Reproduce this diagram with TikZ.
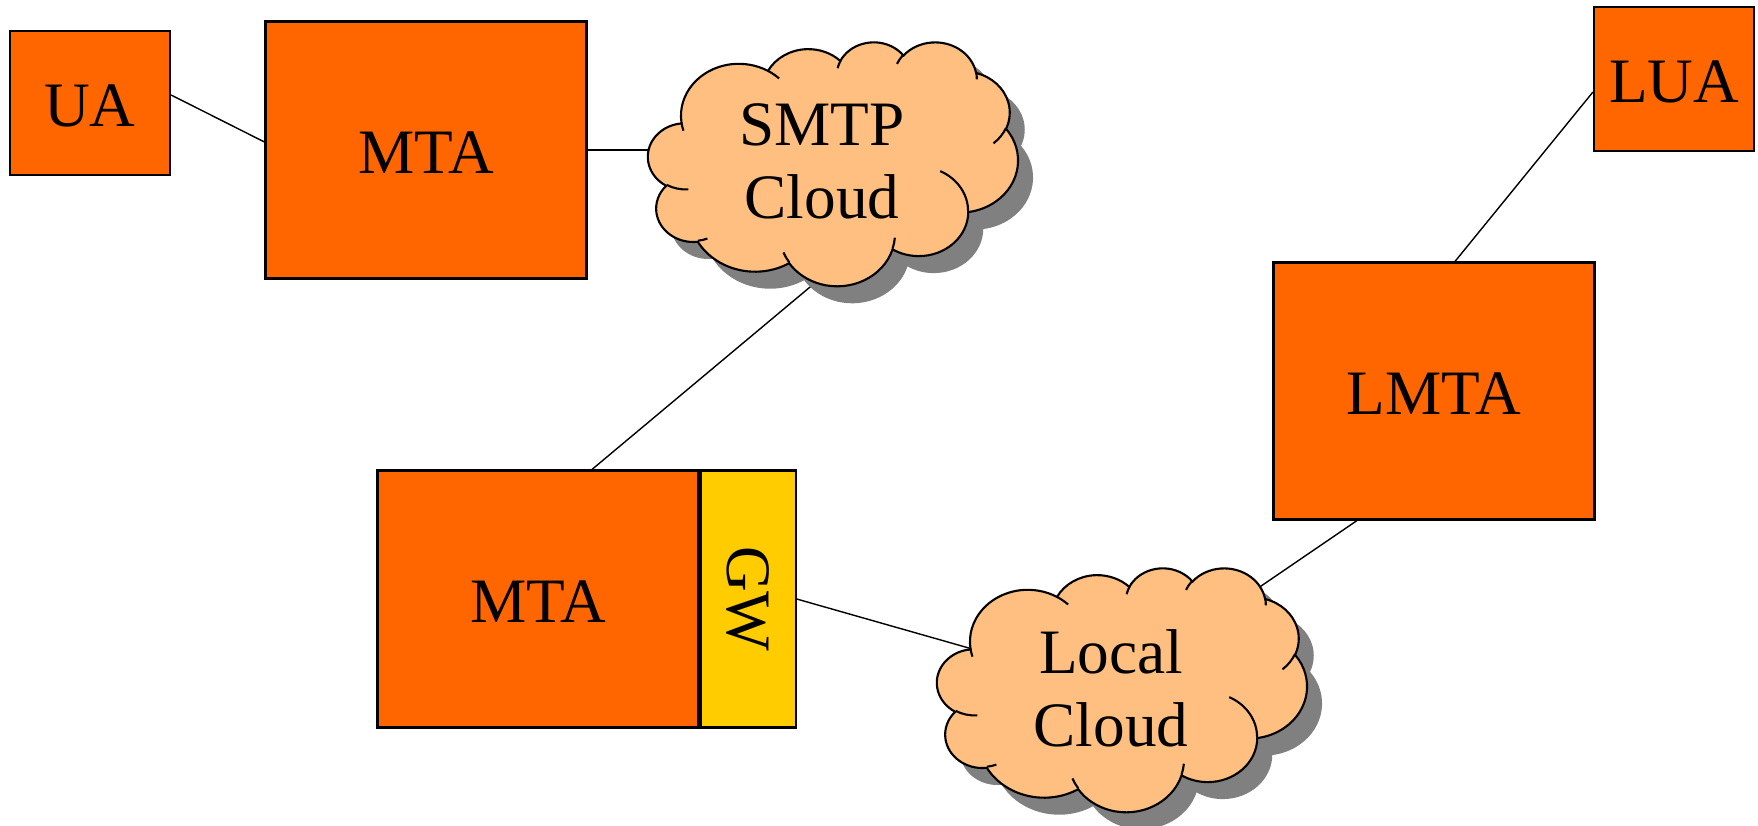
\documentclass[tikz,border=0pt]{standalone}
\usepackage{fontspec}
\setmainfont{Liberation Serif}
\usepackage{graphicx}
\usetikzlibrary{positioning,backgrounds}
\definecolor{mtaorange}{HTML}{FF6600}
\definecolor{gwyellow}{HTML}{FFCC00}
\definecolor{cloudfill}{HTML}{FFBF80}

% elliptic arc given by radii, start angle and sweep (angles as seen on the ellipse)
\newcommand\pptarc[4]{arc[start angle={atan2(#1*sin(#3),#2*cos(#3))},
  delta angle={mod(atan2(#1*sin(#3+#4),#2*cos(#3+#4))-atan2(#1*sin(#3),#2*cos(#3))+720,360)},
  x radius=#1, y radius=#2]}
% cloud outline on a 432 x 432 grid, y pointing down
\newcommand\cloudoutline{(39.00,143.70)
  \pptarc{67.53}{91.90}{-190.4875}{123.7805}
  \pptarc{53.33}{72.67}{-144.1024}{89.9452}
  \pptarc{43.65}{59.45}{-145.8079}{99.7230}
  \pptarc{48.57}{65.95}{-130.9861}{117.2417}
  \pptarc{53.33}{72.73}{-78.7089}{109.0269}
  \pptarc{67.75}{92.20}{-46.2673}{130.2690}
  \pptarc{57.85}{78.67}{0.6250}{114.0333}
  \pptarc{67.52}{92.15}{22.4516}{115.1726}
  \pptarc{77.20}{105.43}{66.2426}{75.7110}
  \pptarc{43.60}{59.18}{-274.9421}{146.7356}
  \pptarc{43.45}{59.45}{-246.8285}{152.5189} -- cycle}
\newcommand\cloudcreases{%
  (46.93,261.77) \pptarc{43.45}{59.45}{86.7420}{26.4295}
  (69.28,348.99) \pptarc{43.60}{59.18}{73.6105}{11.4475}
  (164.78,390.90) \pptarc{67.52}{92.15}{137.6242}{14.0811}
  (288.27,347.51) \pptarc{67.52}{92.15}{6.4533}{15.9984}
  (341.29,229.54) \pptarc{57.85}{78.67}{-70.2924}{70.9174}
  (417.98,153.54) \pptarc{53.33}{72.73}{30.3180}{27.7515}
  (383.24,54.26) \pptarc{48.57}{65.95}{-13.7443}{14.8589}
  (290.78,39.52) \pptarc{48.57}{65.95}{-149.1815}{18.1954}
  (221.41,47.20) \pptarc{43.65}{59.45}{-163.4943}{17.6864}
  (140.00,51.92) \pptarc{67.53}{91.90}{-66.7070}{12.3194}
  (41.27,157.89) \pptarc{67.53}{91.90}{157.6544}{11.8582}}

\tikzset{
  pics/mailcloud/.style={code={
    \begin{scope}[x=0.008565cm, y=-0.005648cm, shift={(-216,-216)}]
      \begin{scope}[shift={(0.15cm,-0.17cm)}]
        \fill[black!50] \cloudoutline;
      \end{scope}
      \filldraw[fill=cloudfill] \cloudoutline;
      \draw \cloudcreases;
    \end{scope}
  }}
}

\begin{document}
\begin{tikzpicture}[x=1cm,y=1cm,line width=0.6pt,
  agent/.style={draw, fill=mtaorange, inner sep=0pt, text height=0.48cm,
    minimum width=1.6cm, minimum height=1.44cm,
    font=\fontsize{18}{21.6}\selectfont},
  transfer/.style={agent, minimum width=3.21cm, minimum height=2.57cm},
  gateway/.style={draw, fill=gwyellow, inner sep=0pt,
    minimum width=0.95cm, minimum height=2.57cm,
    font=\fontsize{18}{21.6}\selectfont},
  cloudtext/.style={inner sep=0pt, align=center,
    minimum width=3.7cm, minimum height=2.44cm,
    font=\fontsize{18}{20.8}\selectfont}]
  \useasboundingbox (0,0) rectangle (17.58,8.26);

  \node[agent] (ua) at (0.90,7.23) {UA};
  \node[transfer] (mtaA) at (4.26,6.76) {MTA};
  \pic at (8.33,6.625) {mailcloud};
  \node[cloudtext] (smtp) at (8.22,6.645) {SMTP\\Cloud};

  \node[agent] (lua) at (16.74,7.47) {LUA};
  \node[transfer] (lmta) at (14.34,4.35) {LMTA};

  \node[transfer] (mtaB) at (5.38,2.27) {MTA};
  \node[gateway, right=0pt of mtaB] (gw) {\rotatebox{-90}{GW}};
  \pic at (11.22,1.365) {mailcloud};
  \node[cloudtext] (local) at (11.11,1.375) {Local\\Cloud};

  \begin{pgfonlayer}{background}
    \draw ([yshift=0.08cm]ua.east) -- ([yshift=0.08cm]mtaA.west);
    \draw (mtaA.east) -- (mtaA.east -| smtp.center);
    \draw[shorten <=-0.3cm] ([xshift=-0.09cm]smtp.south) -- ([xshift=0.54cm]mtaB.north);
    \draw ([yshift=-0.13cm]lua.west) -- ([xshift=0.21cm]lmta.north);
    \draw ([xshift=-0.77cm]lmta.south) -- (local.center);
    \draw (gw.east) -- (local.center);
  \end{pgfonlayer}
\end{tikzpicture}
\end{document}
